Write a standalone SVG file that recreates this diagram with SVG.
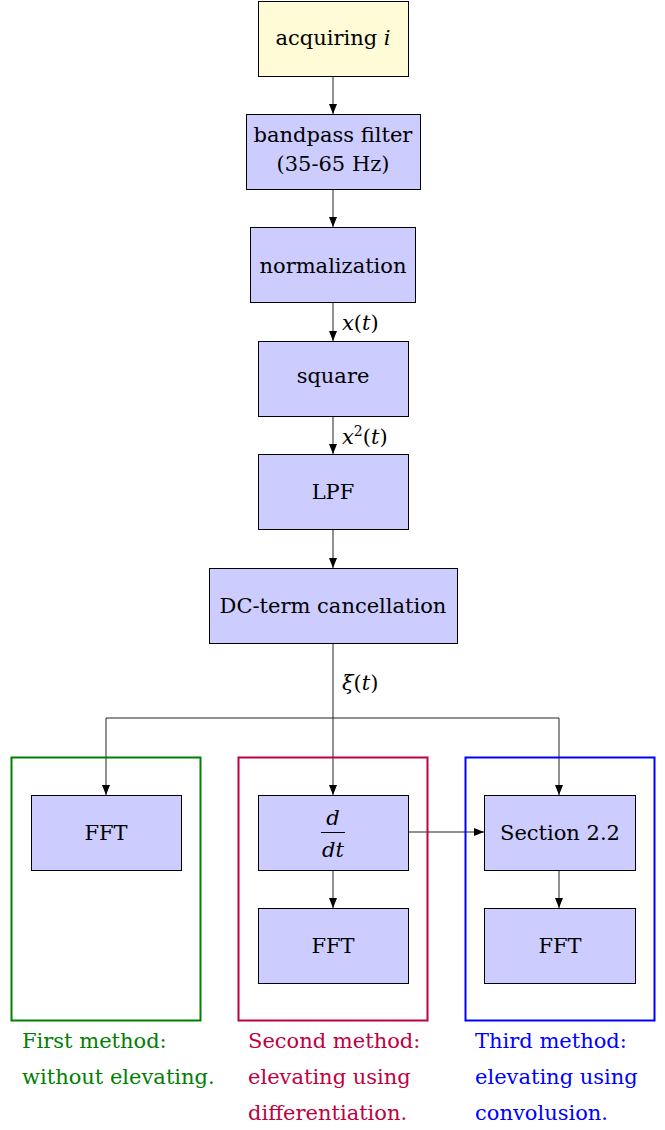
<svg xmlns="http://www.w3.org/2000/svg" width="665" height="1130" viewBox="0 0 665 1130">
<defs>
<style>
.n rect{fill:#ccccff;stroke:#000;stroke-width:1}
.t{font-family:"DejaVu Serif","Liberation Serif",serif;font-size:21px;fill:#000;text-anchor:middle}
.m{font-family:"DejaVu Serif","Liberation Serif",serif;font-size:21px;fill:#000}
.c{fill:none;stroke:#222;stroke-width:1}
.cap{font-family:"DejaVu Serif","Liberation Serif",serif;font-size:21px}
</style>
<marker id="ah" viewBox="0 0 10 8" refX="10" refY="4" markerWidth="10" markerHeight="8" markerUnits="userSpaceOnUse" orient="auto">
<path d="M0,0 L10,4 L0,8 Z" fill="#000"/>
</marker>
</defs>
<rect width="665" height="1130" fill="#fff"/>
<g id="connectors">
<path class="c" d="M333,76 V114" marker-end="url(#ah)"/>
<path class="c" d="M333,189 V227" marker-end="url(#ah)"/>
<path class="c" d="M333,302 V341" marker-end="url(#ah)"/>
<path class="c" d="M333,416 V454" marker-end="url(#ah)"/>
<path class="c" d="M333,529 V568" marker-end="url(#ah)"/>
<path class="c" d="M333,643 V795" marker-end="url(#ah)"/>
<path class="c" d="M106,718 H559"/>
<path class="c" d="M106,718 V795" marker-end="url(#ah)"/>
<path class="c" d="M559,718 V795" marker-end="url(#ah)"/>
<path class="c" d="M333,870 V908" marker-end="url(#ah)"/>
<path class="c" d="M559,870 V908" marker-end="url(#ah)"/>
<path class="c" d="M408,832 H484" marker-end="url(#ah)"/>
<text class="m" x="342" y="330"><tspan font-style="italic">x</tspan>(<tspan font-style="italic">t</tspan>)</text>
<text class="m" x="342" y="444"><tspan font-style="italic">x</tspan><tspan font-size="14" dy="-8">2</tspan><tspan dy="8">(</tspan><tspan font-style="italic">t</tspan>)</text>
<text class="m" x="342" y="690"><tspan font-style="italic">ξ</tspan>(<tspan font-style="italic">t</tspan>)</text>
</g>
<g id="groups">
<rect x="11.5" y="757.5" width="189" height="263" fill="none" stroke="#008000" stroke-width="2"/>
<rect x="238.5" y="757.5" width="189" height="263" fill="none" stroke="#bf0040" stroke-width="2"/>
<rect x="465.5" y="757.5" width="189" height="263" fill="none" stroke="#0000ff" stroke-width="2"/>
</g>
<g id="acquiring" class="n">
<rect x="258.5" y="1.5" width="150" height="75" style="fill:#fffbd6"/>
<text class="t" x="333" y="45">acquiring <tspan font-style="italic">i</tspan></text>
</g>
<g id="bandpass" class="n">
<rect x="246.5" y="114.5" width="174" height="75"/>
<text class="t" x="333" y="142">bandpass filter</text>
<text class="t" x="333" y="171">(35-65 Hz)</text>
</g>
<g id="normalization" class="n">
<rect x="250.5" y="227.5" width="165" height="75"/>
<text class="t" x="333" y="273">normalization</text>
</g>
<g id="square" class="n">
<rect x="258.5" y="341.5" width="150" height="75"/>
<text class="t" x="333" y="383">square</text>
</g>
<g id="lpf" class="n">
<rect x="258.5" y="454.5" width="150" height="75"/>
<text class="t" x="333" y="499">LPF</text>
</g>
<g id="dcterm" class="n">
<rect x="209.5" y="568.5" width="248" height="75"/>
<text class="t" x="333" y="613">DC-term cancellation</text>
</g>
<g id="fft1" class="n">
<rect x="31.5" y="795.5" width="150" height="75"/>
<text class="t" x="106" y="840">FFT</text>
</g>
<g id="ddt" class="n">
<rect x="258.5" y="795.5" width="150" height="75"/>
<text class="t" x="333" y="825" font-style="italic">d</text>
<line x1="321" y1="832.5" x2="345" y2="832.5" stroke="#000" stroke-width="1"/>
<text class="t" x="333" y="857" font-style="italic">dt</text>
</g>
<g id="fft2" class="n">
<rect x="258.5" y="908.5" width="150" height="75"/>
<text class="t" x="333" y="953">FFT</text>
</g>
<g id="section" class="n">
<rect x="484.5" y="795.5" width="151" height="75"/>
<text class="t" x="560" y="840">Section 2.2</text>
</g>
<g id="fft3" class="n">
<rect x="484.5" y="908.5" width="151" height="75"/>
<text class="t" x="560" y="953">FFT</text>
</g>
<g id="captions">
<text class="cap" fill="#008000" x="22" y="1048">First method:</text>
<text class="cap" fill="#008000" x="22" y="1084">without elevating.</text>
<text class="cap" fill="#bf0040" x="248" y="1048">Second method:</text>
<text class="cap" fill="#bf0040" x="248" y="1084">elevating using</text>
<text class="cap" fill="#bf0040" x="248" y="1120">differentiation.</text>
<text class="cap" fill="#0000ff" x="475" y="1048">Third method:</text>
<text class="cap" fill="#0000ff" x="475" y="1084">elevating using</text>
<text class="cap" fill="#0000ff" x="475" y="1120">convolusion.</text>
</g>
</svg>
